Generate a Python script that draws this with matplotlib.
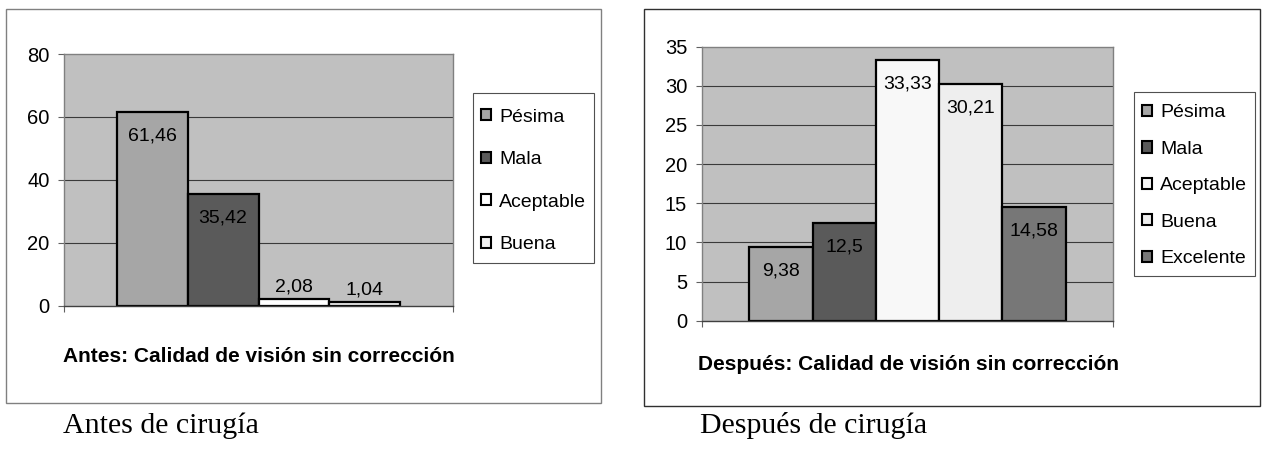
import matplotlib
matplotlib.use("Agg")
import matplotlib.pyplot as plt
from matplotlib.patches import Patch, Rectangle

# --- data -------------------------------------------------------------
before_labels = ["Pésima", "Mala", "Aceptable", "Buena"]
before_values = [61.46, 35.42, 2.08, 1.04]
before_text = ["61,46", "35,42", "2,08", "1,04"]
before_colors = ["#a6a6a6", "#5a5a5a", "#ffffff", "#efefef"]

after_labels = ["Pésima", "Mala", "Aceptable", "Buena", "Excelente"]
after_values = [9.38, 12.5, 33.33, 30.21, 14.58]
after_text = ["9,38", "12,5", "33,33", "30,21", "14,58"]
after_colors = ["#a6a6a6", "#5a5a5a", "#f8f8f8", "#eeeeee", "#777777"]

before_ticks = [0, 20, 40, 60, 80]
after_ticks = [0, 5, 10, 15, 20, 25, 30, 35]

before_title = "Antes: Calidad de visión sin corrección"
after_title = "Después: Calidad de visión sin corrección"
before_caption = "Antes de cirugía"
after_caption = "Después de cirugía"

# --- layout helpers (pixel -> figure fraction) -------------------------
W, H = 1262, 454
fig = plt.figure(figsize=(W / 100, H / 100), dpi=100)
fig.patch.set_facecolor("white")


def fx(px):
    return px / W


def fy(py):
    return 1 - py / H


def frame(x0, y0, x1, y1, color, lw=1.0):
    fig.add_artist(Rectangle((fx(x0), fy(y1)), fx(x1) - fx(x0), fy(y0) - fy(y1),
                             transform=fig.transFigure, fill=False,
                             edgecolor=color, linewidth=lw))


SANS = "Liberation Sans"
SERIF = "Liberation Serif"


def panel(box, values, texts, labels, colors, ticks, legend_box, legend_top,
          spacing):
    x0, y0, x1, y1 = box
    ax = fig.add_axes([fx(x0), fy(y1), fx(x1) - fx(x0), fy(y0) - fy(y1)])
    ax.set_facecolor("#c0c0c0")
    n = len(values)
    w = 1.0 / (n + 1.5)
    start = -n * w / 2
    centers = [start + (i + 0.5) * w for i in range(n)]
    ax.bar(centers, values, width=w, color=colors, edgecolor="black",
           linewidth=1.6, zorder=3)
    ymax = ticks[-1]
    ax.set_xlim(-0.5, 0.5)
    ax.set_ylim(0, ymax)
    ax.set_yticks(ticks)
    ax.set_yticklabels([str(t) for t in ticks], fontfamily=SANS, fontsize=14.5)
    ax.set_xticks([-0.5, 0.5])
    ax.set_xticklabels(["", ""])
    ax.tick_params(axis="y", direction="out", length=4, width=0.8,
                   color="#606060", pad=6.5)
    ax.tick_params(axis="x", direction="out", length=4, width=0.8,
                   color="#606060")
    for t in ticks[1:-1]:
        ax.axhline(t, color="#3a3a3a", linewidth=0.8, zorder=1)
    for side in ("top", "right", "left"):
        ax.spines[side].set_color("#808080")
        ax.spines[side].set_linewidth(1.0)
    ax.spines["bottom"].set_color("#404040")
    ax.spines["bottom"].set_linewidth(1.0)
    ax.spines["bottom"].set_zorder(4)

    height_px = y1 - y0
    for c, v, s in zip(centers, values, texts):
        bar_px = v / ymax * height_px
        off = -24 if bar_px > 40 else 12
        ax.annotate(s, (c, v), xytext=(0, off), textcoords="offset pixels",
                    ha="center", va="center", fontfamily=SANS, fontsize=14,
                    color="black", zorder=5)

    # legend entries, with a plain box drawn around them
    lx0, ly0, lx1, ly1 = legend_box
    frame(lx0, ly0, lx1, ly1, "#505050", lw=0.8)
    handles = [Patch(facecolor=col, edgecolor="black", linewidth=1.5)
               for col in colors]
    fig.legend(handles, labels, loc="upper left",
               bbox_to_anchor=(fx(lx0), fy(legend_top)),
               prop={"family": SANS, "size": 14}, frameon=False,
               borderpad=0.4, labelspacing=spacing, handlelength=0.5,
               handleheight=0.5, handletextpad=0.45, borderaxespad=0)
    return ax


# --- left panel ---------------------------------------------------------
frame(6, 9, 601, 403, "#808080")
panel((64, 54, 453, 305.7), before_values, before_text, before_labels,
      before_colors, before_ticks, (473, 93, 594, 263), 101, 1.31)
fig.text(fx(63), fy(362), before_title, ha="left", va="baseline",
         fontfamily=SANS, fontsize=15, fontweight="bold")
fig.text(fx(63), fy(433), before_caption, ha="left", va="baseline",
         fontfamily=SERIF, fontsize=21.5)

# --- right panel --------------------------------------------------------
frame(644, 9, 1260, 406, "#303030")
panel((701.7, 46.7, 1113.3, 320.7), after_values, after_text, after_labels,
      after_colors, after_ticks, (1134, 92, 1255, 276), 96.7, 1.0)
fig.text(fx(698), fy(370), after_title, ha="left", va="baseline",
         fontfamily=SANS, fontsize=15, fontweight="bold")
fig.text(fx(700), fy(433), after_caption, ha="left", va="baseline",
         fontfamily=SERIF, fontsize=21.5)

fig.savefig("out.png", dpi=100)
